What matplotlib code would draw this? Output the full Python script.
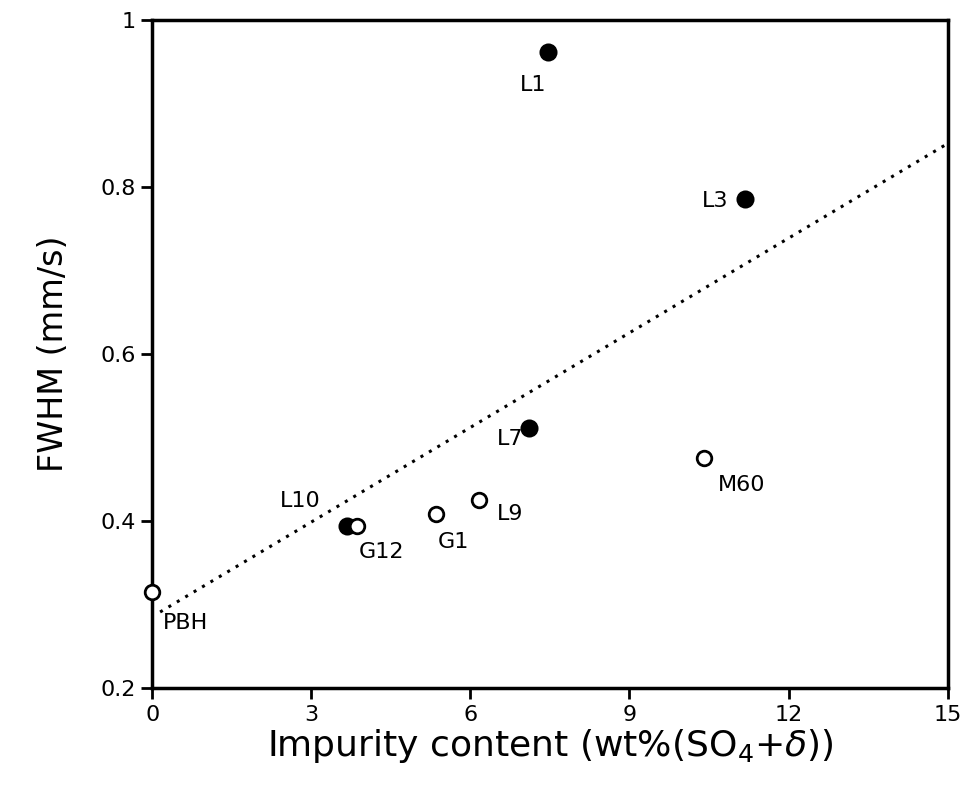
import numpy as np
import matplotlib
matplotlib.use("Agg")
import matplotlib.pyplot as plt

plt.rcParams['font.family'] = ['DejaVu Sans']
plt.rcParams['mathtext.fontset'] = 'dejavusans'

# samples: name, impurity (wt%), FWHM (mm/s), filled?
names = ["L1", "L3", "L7", "L10", "G12", "G1", "L9", "M60", "PBH"]
impurity = [7.46, 11.17, 7.11, 3.67, 3.87, 5.35, 6.16, 10.40, 0.0]
fwhm = [0.962, 0.786, 0.511, 0.394, 0.394, 0.408, 0.425, 0.476, 0.315]
filled = [True, True, True, True, False, False, False, False, False]

# label offsets in points (dx, dy) from the marker to the label's left/centre
label_offsets = [(-20, -24), (-31, -2), (-23, -8), (-48, 18), (1, -19),
                 (1, -20), (13, -10), (10, -20), (8, -22)]

# dotted trend line
fit_x = [0.15, 15.0]
fit_y = [0.291, 0.852]

fig = plt.figure(figsize=(9.69, 7.95), dpi=100)
ax = fig.add_axes([0.157, 0.1346, 0.821, 0.8403])

ax.plot(fit_x, fit_y, linestyle=(0, (1, 2.2)), color='black', lw=2.2,
        zorder=1)

for i, name in enumerate(names):
    ax.plot(impurity[i], fwhm[i], 'o', ms=11 if filled[i] else 10.5,
            mfc='black' if filled[i] else 'white', mec='black', mew=2,
            zorder=3, clip_on=False)
    dx, dy = label_offsets[i]
    ax.annotate(name, (impurity[i], fwhm[i]), xytext=(dx, dy),
                textcoords='offset points', fontsize=16, ha='left',
                va='center')

ax.set_xlim(0, 15)
ax.set_ylim(0.2, 1.0)
ax.set_xticks([0, 3, 6, 9, 12, 15])
ax.set_yticks([0.2, 0.4, 0.6, 0.8, 1.0])
ax.set_yticklabels(["0.2", "0.4", "0.6", "0.8", "1"])
ax.tick_params(direction='out', length=8, width=2, labelsize=16, pad=4)

for s in ax.spines.values():
    s.set_linewidth(2.5)

ax.set_xlabel(r"Impurity content (wt%(SO$_4$+$\delta$))", fontsize=26,
              labelpad=2)
ax.set_ylabel("FWHM (mm/s)", fontsize=24, labelpad=22)

fig.savefig("out.png", dpi=100)
